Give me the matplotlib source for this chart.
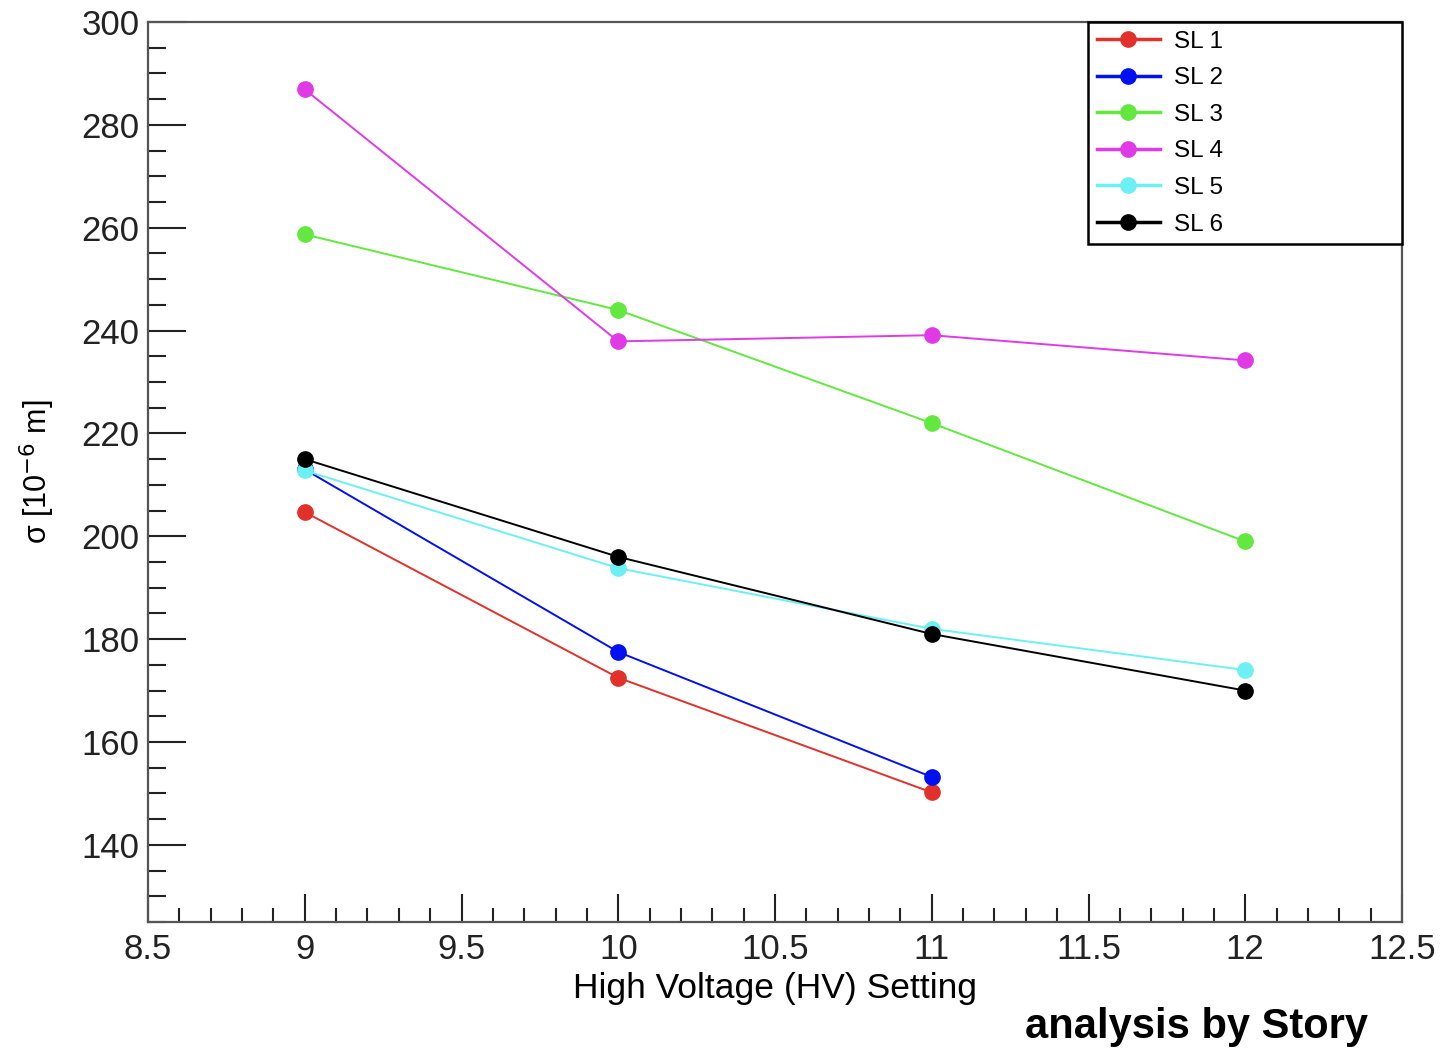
import numpy as np
import matplotlib.pyplot as plt
from matplotlib.ticker import MultipleLocator

plt.rcParams['font.family'] = ['Liberation Sans', 'DejaVu Sans']

hv = [9, 10, 11, 12]

sl1 = [204.7, 172.5, 150.2]
sl2 = [213.0, 177.5, 153.2]
sl3 = [258.7, 244.0, 222.0, 199.0]
sl4 = [286.9, 237.9, 239.1, 234.2]
sl5 = [212.8, 193.8, 182.0, 174.0]
sl6 = [215.0, 196.0, 181.0, 170.0]

series = [
    ('SL 1', sl1, '#e2302a'),
    ('SL 2', sl2, '#0010f0'),
    ('SL 3', sl3, '#62e83e'),
    ('SL 4', sl4, '#e03ae6'),
    ('SL 5', sl5, '#6cf0f4'),
    ('SL 6', sl6, '#000000'),
]

fig = plt.figure(figsize=(14.43, 10.48), dpi=100)
ax = fig.add_axes([148/1443, 1 - 922/1048, 1254/1443, 900/1048])

for name, vals, col in series:
    ax.plot(hv[:len(vals)], vals, '-o', color=col, lw=1.4, markersize=11, label=name)

ax.set_xlim(8.5, 12.5)
ax.set_ylim(125, 300)
ax.xaxis.set_major_locator(MultipleLocator(0.5))
ax.xaxis.set_minor_locator(MultipleLocator(0.1))
ax.yaxis.set_major_locator(MultipleLocator(20))
ax.yaxis.set_minor_locator(MultipleLocator(5))
ax.xaxis.set_major_formatter(plt.FuncFormatter(lambda v, p: f'{v:g}'))

ax.tick_params(axis='both', which='both', direction='in', colors='#222222', width=1.5)
ax.tick_params(axis='x', which='major', length=20, labelsize=25, pad=8)
ax.tick_params(axis='x', which='minor', length=10)
ax.tick_params(axis='y', which='major', length=27, labelsize=25, pad=6)
ax.tick_params(axis='y', which='minor', length=13)
for s in ax.spines.values():
    s.set_linewidth(1.6)
    s.set_color('#555555')

ax.set_xlabel('High Voltage (HV) Setting', fontsize=25.5, labelpad=4)
ax.set_ylabel('σ [10$^{-6}$ m]', fontsize=22, labelpad=18)

leg = ax.legend(loc='upper left', bbox_to_anchor=(940/1254, 0.75, 314/1254, 0.25),
                mode='expand', borderaxespad=0, fancybox=False, fontsize=17.5,
                handlelength=2.6, labelspacing=0.6, handletextpad=0.6,
                borderpad=0.35, framealpha=1)
leg.get_frame().set_edgecolor('black')
leg.get_frame().set_linewidth(1.8)
for ln in leg.get_lines():
    ln.set_linewidth(2.5)

fig.text(1368/1443, 1 - 1027/1048, 'analysis by Story', fontsize=30,
         fontweight='bold', ha='right', va='center')

fig.savefig('out.png', dpi=100)
